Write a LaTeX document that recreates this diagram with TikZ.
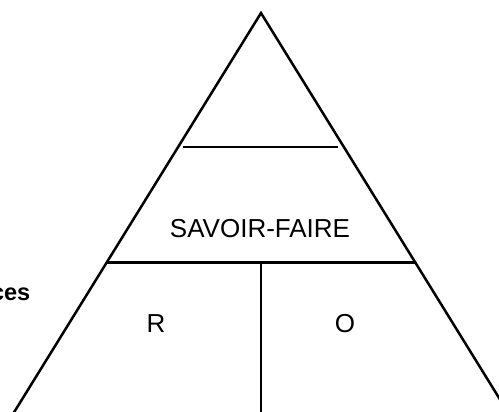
\documentclass[tikz,border=0pt]{standalone}
\usepackage{fontspec}
\setmainfont{Liberation Sans}
\begin{document}
\begin{tikzpicture}[x=1pt,y=-1pt,
  edge/.style={line width=2.5pt,line cap=butt},
  lbl/.style={font=\fontsize{26}{30}\selectfont,anchor=base,inner sep=0pt}]
\useasboundingbox (0,0) rectangle (499,412);
\clip (0,0) rectangle (499,412);
\coordinate (apex) at (261,13);
\coordinate (bl) at (13,414);
\coordinate (br) at (509,414);
\draw[edge,line join=miter] (bl) -- (apex) -- (br);
\draw[edge] (183,147) -- (338,147);
\draw[edge] (107,262.5) -- (415,262.5);
\draw[edge] (261,262.5) -- (261,414);
\node[lbl] (sf) at (260,237) {SAVOIR-FAIRE};
\node[lbl] (r) at (156,332) {R};
\node[lbl] (o) at (345,332) {O};
\node[font=\bfseries\fontsize{23.5}{28}\selectfont,anchor=base east,inner sep=0pt] (ces) at (30.5,301) {ces};
\end{tikzpicture}
\end{document}
